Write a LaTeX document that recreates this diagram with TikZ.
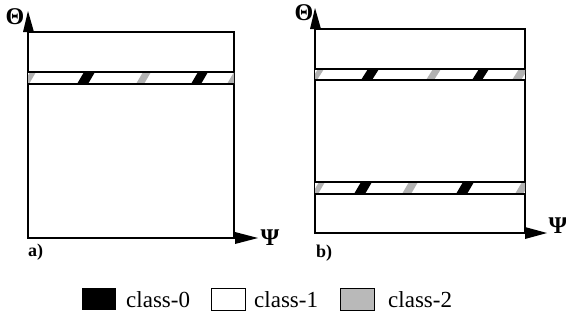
\documentclass[tikz,border=0pt]{standalone}
\usepackage{fontspec}
\setmainfont{Liberation Serif}
\begin{document}
\begin{tikzpicture}[x=1pt,y=-1pt,
  frame/.style={draw=black,line width=1.4pt},
  band/.style={draw=black,line width=2.2pt},
  c0/.style={fill=black},
  c2/.style={fill=gray!60},
  axislbl/.style={font=\fontsize{24}{24}\selectfont\bfseries,inner sep=0pt},
  panellbl/.style={font=\fontsize{18}{18}\selectfont\bfseries,inner sep=0pt,anchor=base west},
  legtxt/.style={font=\fontsize{23}{23}\selectfont,inner sep=0pt,anchor=base west},
  legbox/.style={draw=black,line width=1pt}]
\useasboundingbox (0,0) rectangle (566,322);

% one slanted segment of a band: #1 style, #2 bottom-left x, #3 width, #4 top y, #5 bottom y
\newcommand{\bandseg}[5]{\fill[#1] (#2,#5) -- ({#2+#3},#5) -- ({#2+#3+7},#4) -- ({#2+7},#4) -- cycle;}

% ---------------- panel a ----------------
\coordinate (a-sw) at (28,238);
\coordinate (a-ne) at (234,32);
\draw[frame] (a-sw) rectangle (a-ne);
\begin{scope}
  \clip (28,72) rectangle (234,84);
  \fill[white] (28,72) rectangle (234,84);
  \bandseg{c2}{23}{6}{72}{84}
  \bandseg{c0}{77}{11}{72}{84}
  \bandseg{c2}{136}{8}{72}{84}
  \bandseg{c0}{191}{10}{72}{84}
  \bandseg{c2}{227}{7}{72}{84}
\end{scope}
\draw[band] (28,72) -- (234,72) (28,84) -- (234,84);
% axes
\coordinate (a-ytip) at (28,11);
\coordinate (a-xtip) at (258,238);
\fill (a-ytip) -- (34,32) -- (23,32) -- cycle;
\draw[frame] (a-sw) -- (236,238);
\fill (a-xtip) -- (235,232) -- (235,244) -- cycle;
\node[axislbl] (a-theta) at (15,17) {Θ};
\node[axislbl] (a-psi) at (270,238) {Ψ};
\node[panellbl] (a-lbl) at (28,256) {a)};

% ---------------- panel b ----------------
\coordinate (b-sw) at (315,233);
\coordinate (b-ne) at (525,29);
\draw[frame] (b-sw) rectangle (b-ne);
\begin{scope}
  \clip (315,69) rectangle (525,80);
  \fill[white] (315,69) rectangle (525,80);
  \bandseg{c2}{311}{6}{69}{80}
  \bandseg{c0}{361}{11}{69}{80}
  \bandseg{c2}{426}{8}{69}{80}
  \bandseg{c0}{472}{10}{69}{80}
  \bandseg{c2}{512}{9}{69}{80}
\end{scope}
\draw[band] (315,69) -- (525,69) (315,80) -- (525,80);
\begin{scope}
  \clip (315,182) rectangle (525,194);
  \fill[white] (315,182) rectangle (525,194);
  \bandseg{c2}{312}{6}{182}{194}
  \bandseg{c0}{354}{11}{182}{194}
  \bandseg{c2}{402}{9}{182}{194}
  \bandseg{c0}{456}{11}{182}{194}
  \bandseg{c2}{515}{8}{182}{194}
\end{scope}
\draw[band] (315,182) -- (525,182) (315,194) -- (525,194);
% axes
\coordinate (b-ytip) at (315,8);
\coordinate (b-xtip) at (547,233);
\fill (b-ytip) -- (321,29) -- (310,29) -- cycle;
\draw[frame] (b-sw) -- (527,233);
\fill (b-xtip) -- (525,227) -- (525,239) -- cycle;
\node[axislbl] (b-theta) at (304,13) {Θ};
\node[axislbl] (b-psi) at (558,226) {Ψ};
\node[panellbl] (b-lbl) at (316,257) {b)};

% ---------------- legend ----------------
\fill[black] (82,288) rectangle (116,310);
\node[legtxt] (l0) at (126,307) {class-0};
\draw[legbox,fill=white] (211,288) rectangle (245,310);
\node[legtxt] (l1) at (254,307) {class-1};
\draw[legbox,fill=gray!55] (340,288) rectangle (374,310);
\node[legtxt] (l2) at (388,307) {class-2};
\end{tikzpicture}
\end{document}
